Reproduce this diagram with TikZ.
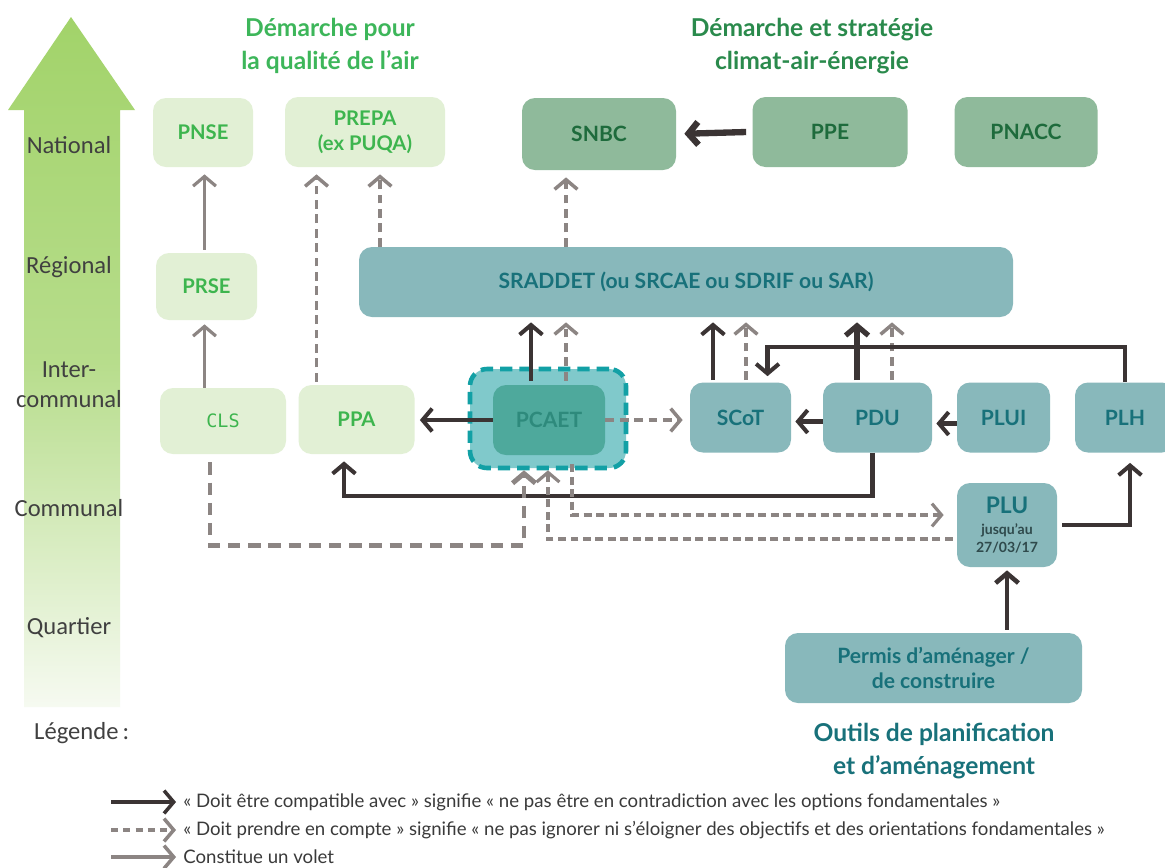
\documentclass[tikz,border=0pt]{standalone}
\usepackage{fontspec}
\setmainfont{Lato}
\newfontfamily\lvlfont{Carlito}
\newfontfamily\monofont{DejaVu Sans Mono}
\usetikzlibrary{arrows.meta,calc}
\definecolor{lgfill}{HTML}{E2F0D5}
\definecolor{lgtext}{HTML}{3DB54E}
\definecolor{ttlone}{HTML}{3DB65A}
\definecolor{dgfill}{HTML}{8FBA9B}
\definecolor{dgtext}{HTML}{1E6B3C}
\definecolor{ttltwo}{HTML}{2A8A4C}
\definecolor{tlfill}{HTML}{88B8BB}
\definecolor{tltext}{HTML}{18717A}
\definecolor{pcout}{HTML}{80C9CB}
\definecolor{pcborder}{HTML}{12A0A5}
\definecolor{pcin}{HTML}{4EA99C}
\definecolor{pctext}{HTML}{2E8A7C}
\definecolor{blk}{HTML}{3B3434}
\definecolor{gry}{HTML}{8C8583}
\definecolor{lvl}{HTML}{404040}
\definecolor{arrtop}{HTML}{A2D36A}
\definecolor{arrbot}{HTML}{F6FAF1}
\definecolor{pludark}{HTML}{2F4A4C}
\definecolor{legtext}{HTML}{3A3A3A}
\begin{document}
\begin{tikzpicture}[x=0.02cm,y=-0.02cm,
  sz/.style 2 args={minimum width=#1*0.02cm, minimum height=#2*0.02cm},
  basebox/.style={rounded corners=0.26cm, align=center, inner sep=0pt},
  lg/.style={basebox, fill=lgfill, text=lgtext, font=\bfseries\fontsize{11.5}{14}\selectfont},
  dg/.style={basebox, fill=dgfill, text=dgtext, font=\bfseries\fontsize{12}{14}\selectfont},
  tl/.style={basebox, fill=tlfill, text=tltext, font=\bfseries\fontsize{12}{14}\selectfont},
  pcaetout/.style={basebox, fill=pcout, draw=pcborder, line width=2.6pt, dash pattern=on 7pt off 4pt, rounded corners=0.34cm},
  pcaetin/.style={basebox, fill=pcin, text=pctext, font=\bfseries\fontsize{12}{14}\selectfont},
  lvllabel/.style={text=lvl, font=\lvlfont\fontsize{14}{17}\selectfont, align=center},
  title/.style={font=\bfseries\fontsize{14}{18.5}\selectfont, align=center},
  compat/.style={draw=blk, line width=2.3pt, -{Straight Barb[length=5.5pt,width=13pt]}},
  volet/.style={draw=gry, line width=1.8pt, -{Straight Barb[length=5.5pt,width=13pt]}},
  compte/.style={draw=gry, line width=2pt, dash pattern=on 5pt off 3.2pt, -{Straight Barb[length=5.5pt,width=13pt]}},
  gap/.style={shorten >=#1*0.02cm}
]
\useasboundingbox (0,0) rectangle (1165,867);
\clip (0,0) rectangle (1165,867);
\fill[white] (0,0) rectangle (1165,867);

% big gradient arrow
\shade[top color=arrtop, bottom color=arrbot, middle color=arrtop!75!arrbot]
  (71,17) -- (135,110) -- (120,110) -- (120,707) -- (24,707) -- (24,110) -- (8,110) -- cycle;

% level labels
\node[lvllabel] (lnat) at (69,145) {National};
\node[lvllabel] (lreg) at (69,267) {Régional};
\node[lvllabel] (lint) at (69,385) {Inter-\\communal};
\node[lvllabel] (lcom) at (69,508) {Communal};
\node[lvllabel] (lqua) at (69,628) {Quartier};
\node[lvllabel, anchor=west] (lleg) at (28,733) {Légende\,:};

% titles
\node[title, text=ttlone] (t1) at (330,46) {Démarche pour\\la qualité de l’air};
\node[title, text=ttltwo] (t2) at (812,46) {Démarche et stratégie\\climat-air-énergie};
\node[title, text=tltext] (t3) at (934,751) {Outils de planification\\et d’aménagement};

% boxes
\node[lg, sz={100}{69}] (PNSE) at (203,132.5) {PNSE};
\node[lg, sz={160}{70}] (PREPA) at (365,132) {PREPA\\(ex PUQA)};
\node[dg, sz={154}{72}] (SNBC) at (599,134) {SNBC};
\node[dg, sz={155}{70}] (PPE) at (830,132) {PPE};
\node[dg, sz={143}{70}] (PNACC) at (1026,132) {PNACC};
\node[tl, sz={654}{70}] (SRADDET) at (686,282) {SRADDET (ou SRCAE ou SDRIF ou SAR)};
\node[lg, sz={101}{67}] (PRSE) at (206.5,286.5) {PRSE};
\node[lg, sz={126}{66}, font=\monofont\fontsize{10.5}{12}\selectfont] (CLS) at (223,421) {CLS};
\node[lg, sz={116}{69}] (PPA) at (356.5,419.5) {PPA};
\node[pcaetout, sz={156}{99}] (PCAETo) at (548,418.5) {};
\node[pcaetin, sz={112}{70}] (PCAET) at (549,420) {PCAET};
\node[tl, sz={101}{70}] (SCoT) at (740.5,417.5) {SCoT};
\node[tl, sz={109}{70}] (PDU) at (877.5,417.5) {PDU};
\node[tl, sz={93}{70}] (PLUI) at (1003.5,417.5) {PLUI};
\node[tl, sz={100}{70}] (PLH) at (1125,417.5) {PLH};
\node[tl, sz={100}{84}, font=\bfseries\fontsize{8}{10}\selectfont] (PLU) at (1007,525)
  {{\fontsize{13}{13}\selectfont PLU}\\[2pt]{\color{pludark}jusqu'au}\\{\color{pludark}27/03/17}};
\node[tl, sz={297}{70}] (Permis) at (933.5,668) {Permis d’aménager /\\de construire};

% connectors: national / regional
\coordinate (prsetop) at ($(PRSE.north)+(-2,-3)$);
\draw[volet, gap=7] (prsetop) -- (prsetop |- PNSE.south);
\draw[volet, gap=4] (prsetop |- CLS.north) -- (prsetop |- PRSE.south);
\coordinate (ppaup) at ($(PPA.north)+(-40,-3)$);
\draw[compte, gap=7] (ppaup) -- (ppaup |- PREPA.south);
\coordinate (prepab) at ($(PREPA.south)+(15,0)$);
\draw[compte, gap=7] (prepab |- SRADDET.north) -- (prepab);
\coordinate (snbcb) at ($(SNBC.south)+(-33,0)$);
\draw[compte, gap=7] (snbcb |- SRADDET.north) -- (snbcb);
\draw[compat, line width=3.6pt, gap=8] ($(PPE.west)+(-6,0)$) -- (SNBC.east);

% to SRADDET
\coordinate (pcs) at ($(PCAET.north)+(-18,-4)$);
\draw[compat, gap=5] (pcs) -- (pcs |- SRADDET.south);
\coordinate (pcd) at ($(PCAET.north)+(17,-4)$);
\draw[compte, gap=5] (pcd) -- (pcd |- SRADDET.south);
\coordinate (scs) at ($(SCoT.north)+(-27.5,-2)$);
\draw[compat, gap=5] (scs) -- (scs |- SRADDET.south);
\coordinate (scd) at ($(SCoT.north)+(5.5,-2)$);
\draw[compte, gap=5] (scd) -- (scd |- SRADDET.south);
\coordinate (pds) at ($(PDU.north)+(-20.5,-2)$);
\draw[compat, line width=3pt, gap=5] (pds) -- (pds |- SRADDET.south);
\coordinate (pdd) at ($(PDU.north)+(14.5,-2)$);
\draw[compte, gap=5] (pdd) -- (pdd |- SRADDET.south);

% PLH -> SCoT
\coordinate (sctop) at ($(SCoT.north)+(27,0)$);
\draw[compat, gap=6] (PLH.north) |- ($(sctop)+(0,-35)$) -- (sctop);

% intercommunal row
\draw[compat, gap=5] (PCAET.west) -- (PPA.east |- PCAET.west);
\draw[compte, gap=7] (PCAET.east) -- (SCoT.west |- PCAET.east);
\draw[compat, gap=4] ($(PDU.west)+(0,4)$) -- ($(SCoT.east)+(0,4)$);
\draw[compat, gap=4] ($(PLUI.west)+(0,6)$) -- ($(PDU.east)+(0,6)$);

% PDU -> PPA
\draw[compat, gap=7] ($(PDU.south)+(-5,0)$) -- ++(0,43) -| ($(PPA.south)+(-12.5,0)$);

% CLS -> PCAET
\draw[compte, line width=2.8pt, dash pattern=on 7pt off 4.5pt, gap=0] ($(CLS.south)+(-13,8)$) -- ++(0,83) -| ($(PCAETo.south)+(-24,0)$);

% PCAET <-> PLU
\draw[compte, line width=1.8pt, dash pattern=on 4.5pt off 2.6pt, gap=13] ($(PCAETo.south)+(24,-6)$) |- ($(PLU.west)+(0,-10)$);
\draw[compte, line width=1.8pt, dash pattern=on 4.5pt off 2.6pt, gap=0] ($(PLU.west)+(-4,14)$) -| (PCAETo.south);

% PLU -> PLH, Permis -> PLU
\draw[compat, gap=10] ($(PLU.east)+(5,0)$) -| ($(PLH.south)+(5,0)$);
\coordinate (permtop) at ($(Permis.north)+(73.5,-3)$);
\draw[compat, line width=2.6pt, gap=3] (permtop) -- (permtop |- PLU.south);

% legend
\coordinate (la1) at (111,802); \coordinate (lb1) at (176,802);
\coordinate (la2) at (111,830); \coordinate (lb2) at (176,830);
\coordinate (la3) at (111,857); \coordinate (lb3) at (176,857);
\draw[compat, line width=2pt] (la1) -- (lb1);
\draw[compte, line width=2pt, dash pattern=on 4pt off 3pt] (la2) -- (lb2);
\draw[volet, line width=2pt] (la3) -- (lb3);
\node[anchor=west, text=legtext, font=\fontsize{10.6}{12}\selectfont, inner sep=0pt] (leg1) at (183,802)
  {« Doit être compatible avec » signifie « ne pas être en contradiction avec les options fondamentales »};
\node[anchor=west, text=legtext, font=\fontsize{10.6}{12}\selectfont, inner sep=0pt] (leg2) at (183,830)
  {« Doit prendre en compte » signifie « ne pas ignorer ni s’éloigner des objectifs et des orientations fondamentales »};
\node[anchor=west, text=legtext, font=\fontsize{10.6}{12}\selectfont, inner sep=0pt] (leg3) at (183,857)
  {Constitue un volet};
\end{tikzpicture}
\end{document}
